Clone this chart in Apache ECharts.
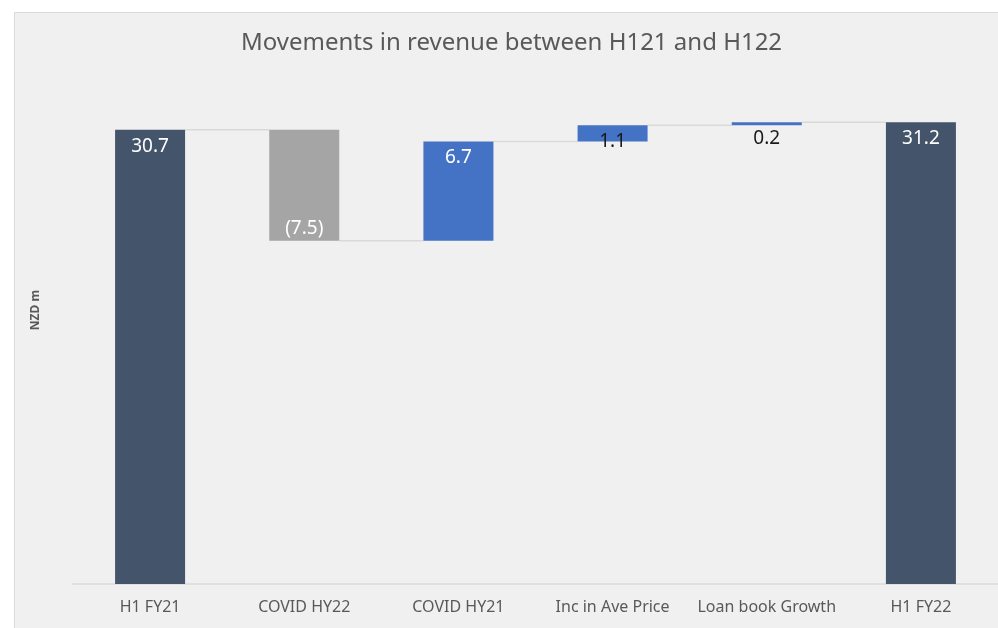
<!DOCTYPE html>
<html>
<head>
<meta charset="utf-8">
<script src="https://cdn.jsdelivr.net/npm/echarts@6/dist/echarts.min.js"></script>
<style>
html,body{margin:0;padding:0;background:#ffffff;}
#chart{width:998px;height:628px;}
</style>
</head>
<body>
<div id="chart"></div>
<script>
var categories = ['H1 FY21', 'COVID HY22', 'COVID HY21', 'Inc in Ave Price', 'Loan book Growth', 'H1 FY22'];
var values = [30.7, -7.5, 6.7, 1.1, 0.2, 31.2];
var isTotal = [true, false, false, false, false, true];
var labelDark = [false, false, false, true, true, false];

var baseData = [], barData = [], levels = [];
var running = 0;
for (var i = 0; i < values.length; i++) {
  var v = values[i];
  var color, base, h;
  if (isTotal[i]) {
    base = 0; h = v; running = v; color = '#44546a';
  } else if (v < 0) {
    base = running + v; h = -v; running = running + v; color = '#a5a5a5';
  } else {
    base = running; h = v; running = running + v; color = '#4472c4';
  }
  baseData.push(base);
  barData.push({
    value: h,
    itemStyle: { color: color },
    label: {
      position: v < 0 ? 'insideBottom' : 'insideTop',
      distance: v < 0 ? 3 : 7,
      color: labelDark[i] ? '#1a1a1a' : '#ffffff'
    }
  });
  levels.push(running);
}
var connectorData = [];
for (var j = 0; j < values.length - 1; j++) connectorData.push([j, levels[j]]);

var chart = echarts.init(document.getElementById('chart'));
chart.setOption({
  backgroundColor: '#ffffff',
  animation: false,
  graphic: [
    { type: 'rect', z: -10, shape: { x: 14.5, y: 12.5, width: 990, height: 620 },
      style: { fill: '#f0f0f0', stroke: '#d9d9d9', lineWidth: 1 } },
    { type: 'text', x: 36, y: 310, rotation: Math.PI / 2,
      style: { text: 'NZD m', fill: '#595959', font: 'bold 12px "Noto Sans"', align: 'center', verticalAlign: 'middle' } }
  ],
  title: {
    text: 'Movements in revenue between H121 and H122',
    left: 236, top: 26,
    textStyle: { fontFamily: 'Noto Sans', fontSize: 24, fontWeight: 'normal', color: '#595959' }
  },
  grid: { left: 73, width: 930, top: 66, bottom: 44 },
  xAxis: {
    type: 'category', data: categories,
    axisLine: { lineStyle: { color: '#d9d9d9', width: 1.5 } },
    axisTick: { show: false },
    axisLabel: { interval: 0, color: '#595959', fontFamily: 'Noto Sans', fontSize: 16, margin: 15 }
  },
  yAxis: {
    type: 'value', min: 0, max: 35,
    axisLine: { show: false }, axisTick: { show: false },
    axisLabel: { show: false }, splitLine: { show: false }
  },
  series: [
    { type: 'bar', stack: 'wf', data: baseData, barWidth: 70,
      itemStyle: { color: 'transparent' }, silent: true },
    { type: 'bar', stack: 'wf', data: barData, barWidth: 70,
      label: { show: true, fontFamily: 'Noto Sans', fontSize: 19,
        formatter: function (p) { var v = values[p.dataIndex]; return v < 0 ? '(' + (-v).toFixed(1) + ')' : v.toFixed(1); } } },
    { type: 'custom', data: connectorData, z: 1, silent: true,
      renderItem: function (params, api) {
        var idx = api.value(0), lvl = api.value(1);
        var p0 = api.coord([idx, lvl]);
        var p1 = api.coord([idx + 1, lvl]);
        var half = 35;
        return { type: 'line',
          shape: { x1: p0[0] + half, y1: p0[1], x2: p1[0] - half, y2: p1[1] },
          style: { stroke: '#d9d9d9', lineWidth: 1.5 } };
      } }
  ]
});
</script>
</body>
</html>
